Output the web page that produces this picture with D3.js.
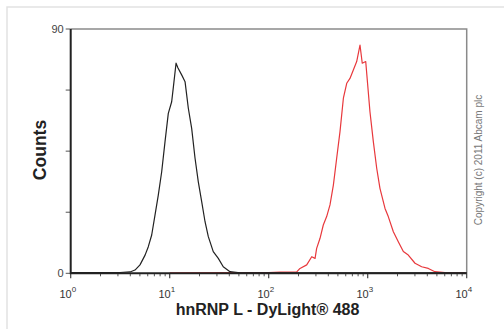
<!DOCTYPE html>
<html>
<head>
<meta charset="utf-8">
<script src="https://cdn.jsdelivr.net/npm/d3@7"></script>
<style>
  body { margin: 0; background: #fff; }
  svg { display: block; font-family: "Liberation Sans", Arial, sans-serif; }
</style>
</head>
<body>
<script>
// intensity (x) and counts
const isoX = [1, 2, 3.15, 3.97, 4.46, 5.01, 5.64, 6.08, 6.58, 7.11, 7.67, 8.3, 8.97, 9.68, 10.47, 10.86, 11.59, 12.13, 13.21, 14.29, 15.42, 16.67, 18.03, 19.45, 21.04, 22.75, 24.55, 27.54, 30.97, 34.75, 40.64, 51.3, 100, 1000, 10000];
const isoY = [0.3, 0.3, 0.3, 0.5, 1.2, 3.1, 6.7, 9.8, 14.1, 21.5, 28.8, 37.4, 48.5, 58.9, 63.2, 68.2, 77.4, 75.6, 73.1, 70.6, 60.8, 53.4, 42.4, 33.7, 26.4, 19.0, 13.5, 8.0, 5.5, 2.4, 0.6, 0.2, 0.2, 0.2, 0.2];

const abX = [10, 50, 100, 130, 192, 207, 242, 272, 294, 305, 330, 356, 385, 416, 450, 486, 525, 568, 614, 662, 716, 774, 836, 881, 955, 1054, 1140, 1233, 1330, 1496, 1614, 1816, 2037, 2291, 2570, 3006, 3508, 4093, 4775, 6026, 9616];
const abY = [0.2, 0.3, 0.3, 0.4, 0.5, 1.8, 3.1, 6.1, 5.5, 9.2, 12.9, 17.8, 20.9, 25.2, 32.5, 42.4, 52.2, 64.5, 70.0, 71.8, 74.9, 78.0, 84.1, 77.4, 78.0, 59.5, 48.5, 38.7, 31.3, 23.9, 20.9, 15.3, 11.6, 8.0, 6.7, 3.7, 2.4, 1.8, 0.6, 0.3, 0.2];

const xDecades = [1, 10, 100, 1000, 10000];
const yTicks = [0, 22.5, 45, 67.5, 90];
const yLabels = [0, 90];

(function() {
  const W = 504, H = 329;
  const mLeft = 70.7, mRight = 466.7, mTop = 29, mBottom = 273.3;

  const svg = d3.select("body").append("svg")
    .attr("width", W).attr("height", H);

  // faint picture frame
  svg.append("path")
    .attr("d", `M7,${H} V7 H${W}`)
    .attr("fill", "none").attr("stroke", "#e2e2e2").attr("stroke-width", 1.5);

  const x = d3.scaleLog().domain([1, 10000]).range([mLeft, mRight]);
  const y = d3.scaleLinear().domain([0, 90]).range([mBottom, mTop]);

  // top and right frame in gray
  svg.append("path")
    .attr("d", `M${mLeft},${mTop} H${mRight} V${mBottom}`)
    .attr("fill", "none").attr("stroke", "#8a8a8a").attr("stroke-width", 1.5);

  // minor x ticks
  const minor = [];
  xDecades.slice(0, -1).forEach(d => { for (let k = 2; k < 10; k++) minor.push(d * k); });
  svg.append("g").selectAll("line")
    .data(minor)
    .join("line")
      .attr("x1", d => x(d)).attr("x2", d => x(d))
      .attr("y1", mBottom).attr("y2", mBottom + 3)
      .attr("stroke", "#555").attr("stroke-width", 1);

  svg.append("g").selectAll("line")
    .data(xDecades)
    .join("line")
      .attr("x1", d => x(d)).attr("x2", d => x(d))
      .attr("y1", mBottom).attr("y2", mBottom + 5)
      .attr("stroke", "#444").attr("stroke-width", 1.2);

  // x tick labels 10^n
  const xl = svg.append("g").attr("fill", "#333");
  xl.selectAll("text.base")
    .data(xDecades)
    .join("text")
      .attr("class", "base")
      .attr("x", d => x(d) + 1).attr("y", 298)
      .attr("text-anchor", "end")
      .attr("font-size", 11)
      .text("10");
  xl.selectAll("text.exp")
    .data(xDecades)
    .join("text")
      .attr("class", "exp")
      .attr("x", d => x(d) + 1).attr("y", 292)
      .attr("font-size", 8)
      .text(d => Math.round(Math.log10(d)));

  // y ticks
  svg.append("g").selectAll("line")
    .data(yTicks)
    .join("line")
      .attr("x1", mLeft - 5).attr("x2", mLeft)
      .attr("y1", d => y(d)).attr("y2", d => y(d))
      .attr("stroke", "#555").attr("stroke-width", 1);

  svg.append("g").selectAll("text")
    .data(yLabels)
    .join("text")
      .attr("x", mLeft - 7).attr("y", d => y(d) + 4)
      .attr("text-anchor", "end")
      .attr("font-size", 11)
      .attr("fill", "#444")
      .text(d => d);

  const line = d3.line()
    .x(d => x(d[0]))
    .y(d => y(d[1]));

  svg.append("path")
    .datum(abX.map((v, i) => [v, abY[i]]))
    .attr("fill", "none")
    .attr("stroke", "#e8383c")
    .attr("stroke-width", 1.2)
    .attr("stroke-linejoin", "round")
    .attr("d", line);

  svg.append("path")
    .datum(isoX.map((v, i) => [v, isoY[i]]))
    .attr("fill", "none")
    .attr("stroke", "#222")
    .attr("stroke-width", 1.2)
    .attr("stroke-linejoin", "round")
    .attr("d", line);

  // black left and bottom axes
  svg.append("path")
    .attr("d", `M${mLeft},${mTop} V${mBottom} H${mRight}`)
    .attr("fill", "none").attr("stroke", "#222").attr("stroke-width", 2);

  // titles
  svg.append("text")
    .attr("x", 267.5).attr("y", 315)
    .attr("text-anchor", "middle")
    .attr("font-size", 16).attr("font-weight", "bold")
    .attr("fill", "#222")
    .text("hnRNP L - DyLight® 488");

  svg.append("text")
    .attr("transform", "translate(46,150) rotate(-90)")
    .attr("text-anchor", "middle")
    .attr("font-size", 17.5).attr("font-weight", "bold")
    .attr("fill", "#222")
    .text("Counts");

  svg.append("text")
    .attr("transform", "translate(482,160) rotate(-90)")
    .attr("text-anchor", "middle")
    .attr("font-size", 10)
    .attr("fill", "#777")
    .text("Copyright (c) 2011 Abcam plc");
})();
</script>
</body>
</html>
